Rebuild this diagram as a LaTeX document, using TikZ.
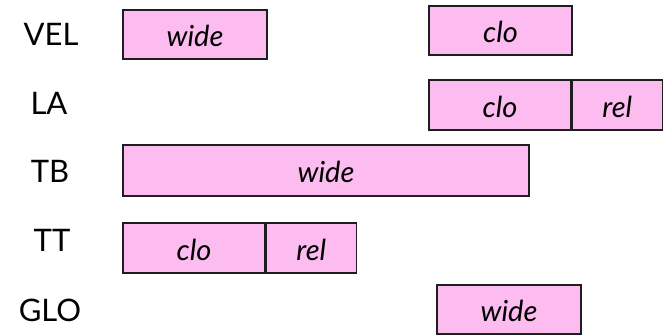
\documentclass[tikz,border=0pt]{standalone}
\usepackage{fontspec}
\setmainfont{Lato}
\definecolor{boxpink}{RGB}{252,188,240}
\definecolor{boxline}{RGB}{30,30,30}
\begin{document}
\begin{tikzpicture}[x=1pt,y=-1pt,
  lbl/.style={font=\fontsize{31}{34}\selectfont, text=black},
  bar/.style={draw=boxline, fill=boxpink, line width=1.3pt, rectangle, inner sep=0pt,
    text height=24pt, text depth=0pt, font=\fontsize{29}{31}\selectfont\itshape},
]
\useasboundingbox (0,0) rectangle (667,335);
% labels
\node[lbl] (vel) at (51,34) {VEL};
\node[lbl] (la) at (49,103) {LA};
\node[lbl] (tb) at (50,171) {TB};
\node[lbl] (tt) at (52,240) {TT};
\node[lbl] (glo) at (50,310) {GLO};
% VEL
\node[bar, minimum width=144pt, minimum height=49pt] (velw) at (195,34.5) {wide};
\node[bar, minimum width=143pt, minimum height=49pt] (velc) at (500.5,30.5) {clo};
% LA
\node[bar, minimum width=142pt, minimum height=50pt] (lac) at (500,105) {clo};
\node[bar, minimum width=90pt, minimum height=50pt, anchor=west] (lar) at (lac.east) {rel};
% TB
\node[bar, minimum width=406pt, minimum height=51pt] (tbw) at (326,170.5) {wide};
% TT
\node[bar, minimum width=142pt, minimum height=50pt] (ttc) at (194,248) {clo};
\node[bar, minimum width=90pt, minimum height=50pt, anchor=west] (ttr) at (ttc.east) {rel};
% GLO
\node[bar, minimum width=144pt, minimum height=49pt] (glow) at (509,309.5) {wide};
\end{tikzpicture}
\end{document}
